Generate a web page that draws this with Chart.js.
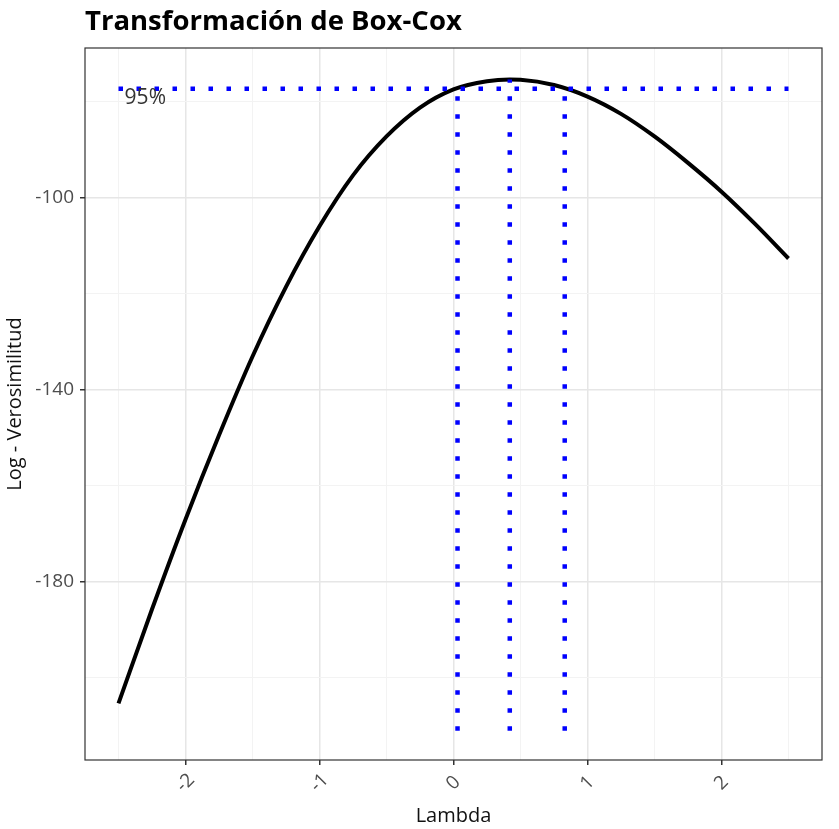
<!DOCTYPE html>
<html>
<head>
<meta charset="utf-8">
<title>Transformación de Box-Cox</title>
<script src="https://cdn.jsdelivr.net/npm/chart.js@4/dist/chart.umd.min.js"></script>
<style>
  html, body { margin: 0; padding: 0; background: #fff; }
  #wrap { width: 839px; height: 829px; position: relative; }
</style>
</head>
<body>
<div id="wrap"><canvas id="boxcox"></canvas></div>
<script>
// perfil de log-verosimilitud
const lambdas = [-2.5, -2.25, -2, -1.75, -1.5, -1.25, -1, -0.75, -0.5, -0.25, 0, 0.25, 0.42, 0.5, 0.75, 1, 1.25, 1.5, 1.75, 2, 2.25, 2.5];
const logLik = [-205.3, -185.7, -167.0, -149.5, -133.1, -118.6, -106.0, -95.4, -87.3, -81.3, -77.5, -75.8, -75.45, -75.5, -76.6, -79.0, -82.6, -87.3, -92.8, -98.8, -105.5, -112.7];

const lambdaHat = 0.42;
const logLikMax = -75.45;
const ciLambda = [0.03, 0.83];
const cutoff95 = -77.37;
const lineBottom = -211;

const xGrid = [-2.5, -2, -1.5, -1, -0.5, 0, 0.5, 1, 1.5, 2, 2.5];
const xLabels = [-2, -1, 0, 1, 2];
const yGrid = [-200, -180, -160, -140, -120, -100, -80];
const yLabels = [-180, -140, -100];

const FONT = "'Open Sans', 'Noto Sans', sans-serif";

const blueDots = {
  borderColor: "#0000ff",
  borderWidth: 4.5,
  borderDash: [4.5, 13.5],
  borderCapStyle: "butt",
  pointRadius: 0,
  fill: false,
  order: 0
};

const decor = {
  id: "decor",
  beforeDraw(chart) {
    const c = chart.ctx;
    c.save();
    c.fillStyle = "#fff";
    c.fillRect(0, 0, chart.width, chart.height);
    c.restore();
  },
  afterDatasetsDraw(chart) {
    const { ctx, chartArea: a, scales: { x, y } } = chart;
    ctx.save();
    ctx.strokeStyle = "#333";
    ctx.lineWidth = 1.2;
    ctx.strokeRect(a.left, a.top, a.right - a.left, a.bottom - a.top);

    ctx.fillStyle = "#333";
    ctx.font = "21px " + FONT;
    ctx.textAlign = "center";
    ctx.textBaseline = "middle";
    ctx.fillText("95%", x.getPixelForValue(-2.3), y.getPixelForValue(cutoff95) + 9);
    ctx.restore();
  },
  afterDraw(chart) {
    const { ctx, chartArea: a, scales: { x } } = chart;
    ctx.save();
    // etiquetas del eje x giradas 45 grados
    ctx.fillStyle = "#4d4d4d";
    ctx.font = "19px " + FONT;
    ctx.textAlign = "center";
    ctx.textBaseline = "middle";
    xLabels.forEach(v => {
      ctx.save();
      ctx.translate(x.getPixelForValue(v), a.bottom + 23);
      ctx.rotate(-Math.PI / 4);
      ctx.fillText(String(v), 0, 0);
      ctx.restore();
    });
    // titulo
    ctx.fillStyle = "#000";
    ctx.font = "bold 27.5px " + FONT;
    ctx.textAlign = "left";
    ctx.textBaseline = "alphabetic";
    ctx.fillText("Transformación de Box-Cox", a.left, 30);
    ctx.restore();
  }
};

const gridColor = (majors) => (c) => {
  if (!c.tick) return "#ebebeb";
  return majors.includes(c.tick.value) ? "#e6e6e6" : "#f3f3f3";
};
const tickColor = (majors) => (c) => {
  if (!c.tick) return "#333";
  return majors.includes(c.tick.value) ? "#333" : "rgba(0,0,0,0)";
};
const gridWidth = (majors) => (c) => (c.tick && majors.includes(c.tick.value) ? 1.5 : 1);

let ctx = document.getElementById("boxcox").getContext("2d");
let boxcoxChart = new Chart(ctx, {
  type: "line",
  data: {
    datasets: [
      {
        data: lambdas.map((l, i) => ({ x: l, y: logLik[i] })),
        borderColor: "#000",
        borderWidth: 4,
        pointRadius: 0,
        cubicInterpolationMode: "monotone",
        fill: false,
        order: 1
      },
      { ...blueDots, data: [{ x: lambdas[0], y: cutoff95 }, { x: lambdas[lambdas.length - 1], y: cutoff95 }] },
      { ...blueDots, data: [{ x: ciLambda[0], y: lineBottom }, { x: ciLambda[0], y: cutoff95 }] },
      { ...blueDots, data: [{ x: lambdaHat, y: lineBottom }, { x: lambdaHat, y: logLikMax }] },
      { ...blueDots, data: [{ x: ciLambda[1], y: lineBottom }, { x: ciLambda[1], y: cutoff95 }] }
    ]
  },
  options: {
    responsive: true,
    maintainAspectRatio: false,
    animation: false,
    layout: { padding: { top: 48, right: 17, left: 0, bottom: 0 } },
    plugins: {
      legend: { display: false },
      tooltip: { enabled: false }
    },
    scales: {
      x: {
        type: "linear",
        min: -2.75,
        max: 2.75,
        afterBuildTicks: s => { s.ticks = xGrid.map(v => ({ value: v })); },
        afterFit: s => { s.height = 69; },
        ticks: { display: false },
        grid: {
          color: gridColor(xLabels),
          lineWidth: gridWidth(xLabels),
          tickColor: tickColor(xLabels),
          tickWidth: 1.5,
          tickLength: 5
        },
        border: { display: false },
        title: {
          display: true,
          text: "Lambda",
          color: "#111",
          font: { family: FONT, size: 20 },
          padding: { top: 0, bottom: 1 }
        }
      },
      y: {
        min: -217.07,
        max: -68.89,
        afterBuildTicks: s => { s.ticks = yGrid.map(v => ({ value: v })); },
        afterFit: s => { s.width = 85; },
        ticks: {
          color: "#4d4d4d",
          font: { family: FONT, size: 19 },
          padding: 6,
          callback: v => (yLabels.includes(v) ? String(v) : "")
        },
        grid: {
          color: gridColor(yLabels),
          lineWidth: gridWidth(yLabels),
          tickColor: tickColor(yLabels),
          tickWidth: 1.5,
          tickLength: 5
        },
        border: { display: false },
        title: {
          display: true,
          text: "Log - Verosimilitud",
          color: "#111",
          font: { family: FONT, size: 20 },
          padding: { top: 3, bottom: 0 }
        }
      }
    }
  },
  plugins: [decor]
});
</script>
</body>
</html>
